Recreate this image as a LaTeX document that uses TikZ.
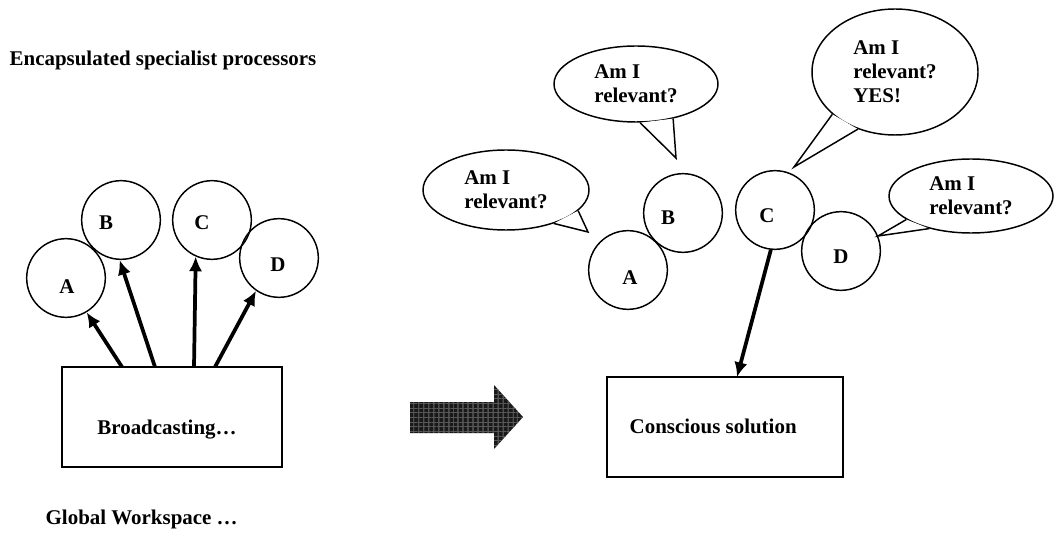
\documentclass[tikz,border=0pt]{standalone}
\usepackage{fontspec}
\setmainfont{Liberation Serif}
\usetikzlibrary{arrows,arrows.meta,positioning,calc,shapes.geometric,patterns.meta}

\begin{document}
\begin{tikzpicture}[x=0.75pt,y=-0.75pt]
        \tikzstyle{every node}=[font=\bfseries\fontsize{15.7}{18}\selectfont]
        \tikzstyle{proc}=[circle,draw,line width=1.1pt,minimum size=59pt,inner sep=0pt]
        \tikzstyle{ws}=[rectangle,draw,line width=1.5pt,inner sep=0pt]
        \tikzstyle{bubble}=[ellipse,draw,fill=white,line width=1.1pt,inner sep=1pt,align=left]
        \tikzstyle{tail}=[line width=1.1pt,line join=miter]
        \tikzstyle{cast}=[-{Latex[length=11pt,width=10pt]},line width=2.8pt]
        \tikzstyle{caption}=[anchor=west]
        \useasboundingbox (0,0) rectangle (1059,534);

        %%% Before
        \node[caption] (title) at (5,60) {Encapsulated specialist processors};
        \node[caption] (gw) at (41,519) {Global Workspace \dots};

        \node[proc] (pA) at (66,278) {};
        \node[proc] (pB) at (121,220) {};
        \node[proc] (pC) at (212,220) {};
        \node[proc] (pD) at (279,258) {};
        \node (lA) at (67,287) {A};
        \node (lB) at (106,223) {B};
        \node (lC) at (202,223) {C};
        \node (lD) at (278,265) {D};

        \node[ws,minimum width=165pt,minimum height=75pt] (bcast) at (172,417) {};
        \node (btext) at (167,430) {Broadcasting\dots};

        \coordinate (sA) at (122,367);
        \coordinate (sB) at (155,367);
        \coordinate (sC) at (194,367);
        \coordinate (sD) at (215,367);
        \draw[cast] (sA) -- (pA.-59);
        \draw[cast] (sB) -- (pB.-92);
        \draw[cast] (sC) -- (pC.-114);
        \draw[cast] (sD) -- (pD.-125);

        %%% big arrow
        \fill[black!90] (410,402) -- (494,402) -- (494,385) -- (523,417)
            -- (494,449) -- (494,433) -- (410,433) -- cycle;
        \fill[pattern={Lines[angle=90,distance=4pt,line width=0.5pt]},pattern color=black!60]
            (410,402) -- (494,402) -- (494,385) -- (523,417)
            -- (494,449) -- (494,433) -- (410,433) -- cycle;
        \fill[pattern={Lines[angle=0,distance=3.5pt,line width=0.4pt]},pattern color=black!65]
            (410,402) -- (494,402) -- (494,385) -- (523,417)
            -- (494,449) -- (494,433) -- (410,433) -- cycle;

        %%% After
        \node[proc] (qA) at (628,270) {};
        \node[proc] (qB) at (683,213) {};
        \node[proc] (qC) at (775,210) {};
        \node[proc] (qD) at (841,251) {};
        \node (mA) at (630,278) {A};
        \node (mB) at (668,218) {B};
        \node (mC) at (767,216) {C};
        \node (mD) at (841,257) {D};

        \node[bubble,minimum width=124.5pt,minimum height=60pt] (bA) at (506,190) {Am I\\relevant?};
        \node[bubble,minimum width=123pt,minimum height=57pt] (bB) at (636,84) {Am I\\relevant?};
        \node[bubble,minimum width=124.5pt,minimum height=94.5pt] (bC) at (895,72) {Am I\\relevant?\\YES!};
        \node[bubble,minimum width=123pt,minimum height=55.5pt] (bD) at (971,196) {Am I\\relevant?};

        \coordinate (tA) at (588,232);
        \coordinate (tB) at (676,158);
        \coordinate (tC) at (794,167);
        \coordinate (tD) at (878,236);
        \fill[white] (bA.-16) -- (tA) -- (bA.-35) -- cycle;
        \draw[tail] (bA.-16) -- (tA) -- (bA.-35);
        \fill[white] (bB.-84) -- (tB) -- (bB.-43) -- cycle;
        \draw[tail] (bB.-84) -- (tB) -- (bB.-43);
        \fill[white] (bC.-146) -- (tC) -- (bC.-123) -- cycle;
        \draw[tail] (bC.-146) -- (tC) -- (bC.-123);
        \fill[white] (bD.-160) -- (tD) -- (bD.-142) -- cycle;
        \draw[tail] (bD.-160) -- (tD) -- (bD.-142);

        \node[ws,minimum width=177pt,minimum height=75pt] (sol) at (725,427) {};
        \node[anchor=west] (stext) at (625,426) {Conscious solution};
        \coordinate (sIn) at (737,377);
        \draw[cast] (qC.-96) -- (sIn);
\end{tikzpicture}
\end{document}
